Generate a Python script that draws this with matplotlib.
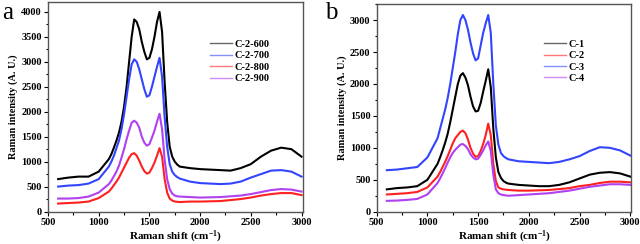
import matplotlib
matplotlib.use('Agg')
import matplotlib.pyplot as plt
from matplotlib.ticker import MultipleLocator

# === Daten ===
shift = [600, 700, 800, 900, 1000,
         1100, 1125, 1150, 1175, 1200, 1225, 1250, 1275, 1300, 1325, 1350, 1375,
         1400, 1425, 1450, 1475, 1500, 1525, 1550, 1575, 1600, 1625, 1650, 1675,
         1700, 1725, 1750, 1775, 1800,
         1900, 2000, 2100, 2200, 2300, 2400, 2500, 2600, 2700, 2800, 2900, 3000]

# Panel a
labels_a = ['C-2-600', 'C-2-700', 'C-2-800', 'C-2-900']
c2_600 = [650, 680, 700, 700, 800,
          1050, 1150, 1280, 1420, 1580, 1800, 2100, 2500, 3000, 3500, 3850, 3800,
          3650, 3400, 3200, 3050, 3080, 3250, 3500, 3800, 4000, 3600, 2600, 1800,
          1300, 1100, 1000, 940, 900,
          870, 850, 840, 830, 820, 870, 950, 1100, 1220, 1280, 1250, 1100]
c2_700 = [500, 520, 530, 560, 650,
          900, 1000, 1120, 1270, 1420, 1650, 1950, 2300, 2650, 2950, 3050, 3000,
          2850, 2650, 2450, 2300, 2330, 2500, 2700, 2900, 3080, 2700, 1900, 1300,
          950, 800, 730, 690, 660,
          600, 570, 560, 550, 560, 600, 680, 750, 820, 830, 800, 700]
c2_800 = [160, 170, 180, 200, 270,
          400, 460, 530, 600, 680, 780, 880, 980, 1080, 1150, 1170, 1120,
          1020, 900, 810, 760, 780, 870, 980, 1120, 1270, 1100, 650, 380,
          260, 220, 200, 195, 190,
          200, 200, 205, 210, 230, 250, 280, 320, 350, 370, 370, 330]
c2_900 = [260, 260, 270, 300, 380,
          550, 620, 710, 800, 920, 1080, 1250, 1450, 1620, 1780, 1820, 1780,
          1680, 1500, 1380, 1320, 1350, 1480, 1620, 1800, 1960, 1650, 1050, 650,
          450, 360, 320, 305, 300,
          290, 280, 285, 290, 305, 320, 350, 390, 430, 450, 440, 400]

# Panel b
labels_b = ['C-1', 'C-2', 'C-3', 'C-4']
c_1 = [350, 370, 380, 400, 500,
       750, 850, 960, 1080, 1220, 1400, 1600, 1800, 2000, 2130, 2170, 2100,
       1980, 1800, 1650, 1570, 1580, 1700, 1880, 2050, 2230, 1950, 1300, 850,
       620, 530, 480, 455, 440,
       420, 410, 400, 400, 420, 460, 520, 580, 610, 620, 600, 550]
c_2 = [270, 280, 290, 310, 380,
       550, 620, 700, 780, 870, 970, 1070, 1150, 1200, 1250, 1270, 1230,
       1130, 1000, 910, 860, 870, 950, 1060, 1200, 1380, 1200, 750, 480,
       380, 360, 350, 345, 340,
       330, 330, 335, 340, 355, 370, 400, 420, 450, 470, 470, 460]
c_3 = [650, 660, 680, 700, 850,
       1150, 1300, 1450, 1600, 1780, 2000, 2250, 2500, 2780, 3000, 3080, 3000,
       2850, 2650, 2480, 2370, 2400, 2600, 2800, 2950, 3080, 2800, 2000, 1350,
       1050, 920, 870, 840, 820,
       790, 780, 770, 760, 780, 820, 870, 950, 1010, 1000, 960, 880]
c_4 = [170, 175, 185, 200, 270,
       450, 520, 600, 680, 770, 850, 920, 970, 1010, 1050, 1060, 1030,
       980, 900, 850, 820, 830, 890, 960, 1040, 1100, 950, 580, 350,
       290, 270, 260, 255, 250,
       260, 270, 280, 290, 310, 330, 360, 390, 410, 430, 430, 420]

# === Stil ===
plt.rcParams['font.family'] = ['Liberation Serif', 'DejaVu Serif']
plt.rcParams['font.weight'] = 'bold'
plt.rcParams['mathtext.fontset'] = 'custom'
plt.rcParams['mathtext.rm'] = 'Liberation Serif:bold'
plt.rcParams['mathtext.bf'] = 'Liberation Serif:bold'
plt.rcParams['mathtext.default'] = 'bf'

fig = plt.figure(figsize=(6.4, 2.44), dpi=100)
ax_a = fig.add_axes([0.075, 0.131, 0.398, 0.861])
ax_b = fig.add_axes([0.5886, 0.131, 0.398, 0.852])

farben_a = ['black', '#3344ff', '#ff2020', '#b040f0']
farben_b = ['black', '#ff2020', '#3344ff', '#b040f0']

for y, lab, col in zip([c2_600, c2_700, c2_800, c2_900], labels_a, farben_a):
    ax_a.plot(shift, y, color=col, lw=1.5, label=lab)
for y, lab, col in zip([c_1, c_2, c_3, c_4], labels_b, farben_b):
    ax_b.plot(shift, y, color=col, lw=1.5, label=lab)

ax_a.set_ylim(-10, 4200)
ax_b.set_ylim(-5, 3250)

# Legendenposition (Achsenkoordinaten)
leg_pos = {ax_a: (0.635, 0.82), ax_b: (0.656, 0.83)}

for ax in (ax_a, ax_b):
    ax.set_xlim(500, 3012)
    ax.xaxis.set_major_locator(MultipleLocator(500))
    ax.xaxis.set_minor_locator(MultipleLocator(250))
    ax.yaxis.set_major_locator(MultipleLocator(500))
    ax.yaxis.set_minor_locator(MultipleLocator(250))
    ax.tick_params(which='both', direction='out', labelsize=7.5, pad=1.5, colors='black')
    ax.tick_params(which='major', length=3, width=0.8)
    ax.tick_params(which='minor', length=1.8, width=0.8)
    for s in ax.spines.values():
        s.set_color('#555555')
        s.set_linewidth(1.0)
    for t in ax.get_xticklabels() + ax.get_yticklabels():
        t.set_fontweight('bold')
    ax.set_xlabel('Raman shift (cm$^{-1}$)', fontsize=8, fontweight='bold', labelpad=1.5)
    ax.set_ylabel('Raman intensity (A. U.)', fontsize=7.4, fontweight='bold', labelpad=2)
    leg = ax.legend(loc='upper left', bbox_to_anchor=leg_pos[ax], frameon=False,
                    fontsize=7.5, handlelength=2.1, handletextpad=0.25,
                    labelspacing=0.2, borderpad=0, borderaxespad=0)
    for line in leg.get_lines():
        line.set_linewidth(1.0)
        line.set_alpha(0.6)
    for t in leg.get_texts():
        t.set_fontweight('bold')

fig.text(0.003, 0.99, 'a', fontsize=18, fontweight='normal', va='top', ha='left')
fig.text(0.508, 0.99, 'b', fontsize=18, fontweight='normal', va='top', ha='left')

plt.savefig('out.png', dpi=100)
plt.close()
